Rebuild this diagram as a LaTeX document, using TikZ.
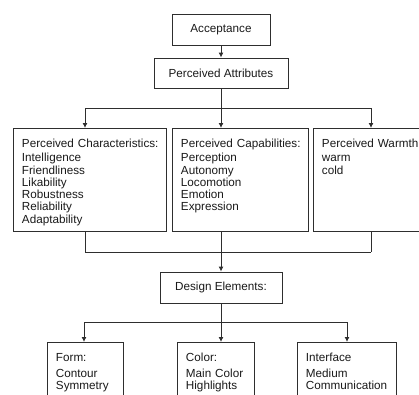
\documentclass[tikz,border=0pt]{standalone}
\usepackage{fontspec}
\setmainfont{Liberation Sans}
\usetikzlibrary{arrows.meta}

\begin{document}
\begin{tikzpicture}[x=1pt, y=-1pt, line width=0.9pt, color=black!82,
        every node/.style={font=\fontsize{11.7}{12.3}\selectfont, text=black!90},
        headbox/.style={draw, minimum height=31pt, inner sep=0pt},
        listbox/.style={draw, anchor=north west, align=left, inner xsep=8.5pt, inner ysep=10pt, text height=9pt},
        arr/.style={-{Latex[length=5pt,width=5pt]}}]
        \useasboundingbox (0,0) rectangle (419,394);
        \clip (0,0) rectangle (419,394);

        % Top of the hierarchy
        \node[headbox, minimum width=98pt] (accept) at (221,29.5) {Acceptance};
        \node[headbox, minimum width=134pt, minimum height=30pt] (attrib) at (221,73) {Perceived Attributes};

        % Perceived attribute groups
        \node[listbox, text width=136pt, text depth=74pt] (charac) at (13,128)
            {\mbox{Perceived Characteristics:}\\[2pt] Intelligence\\ Friendliness\\ Likability\\ Robustness\\ Reliability\\ Adaptability};
        \node[listbox, text width=119pt, text depth=74pt] (capab) at (172,128)
            {\mbox{Perceived Capabilities:}\\[2pt] Perception\\ Autonomy\\ Locomotion\\ Emotion\\ Expression};
        \node[listbox, text width=133pt, text depth=74pt] (warmth) at (313,128)
            {\mbox{Perceived Warmth}\\[2pt] warm\\ cold};

        % Design elements and their parts
        \node[headbox, minimum width=122pt] (design) at (221,287.5) {Design Elements:};
        \node[listbox, text width=59pt, text depth=60pt] (form) at (47,342)
            {Form:\\[3.5pt] Contour\\ Symmetry};
        \node[listbox, text width=60pt, text depth=60pt] (colour) at (177,342)
            {Color:\\[3.5pt] \mbox{Main Color}\\ Highlights};
        \node[listbox, text width=82pt, text depth=60pt] (interf) at (297,342)
            {Interface\\[3.5pt] Medium\\ \mbox{Communication}};

        % Branch points
        \coordinate (split1) at (221,108);
        \coordinate (s1l) at (85,108);
        \coordinate (s1r) at (371,108);
        \coordinate (join1) at (221,252);
        \coordinate (j1l) at (85,252);
        \coordinate (j1r) at (371,252);
        \coordinate (split2) at (221,322);
        \coordinate (s2l) at (84,322);
        \coordinate (s2r) at (347,322);

        % Connectors
        \draw[arr] (accept) -- (attrib);
        \draw (attrib) -- (split1);
        \draw (s1l) -- (s1r);
        \foreach \c/\b in {s1l/charac, split1/capab, s1r/warmth} {
            \draw[arr] (\c) -- (\c |- \b.north);
            \draw (\c |- \b.south) -- (\c |- join1);
        }
        \draw (j1l) -- (j1r);
        \draw[arr] (join1) -- (design);
        \draw (design) -- (split2);
        \draw (s2l) -- (s2r);
        \foreach \c/\b in {s2l/form, split2/colour, s2r/interf}
            \draw[arr] (\c) -- (\c |- \b.north);
    \end{tikzpicture}
\end{document}
